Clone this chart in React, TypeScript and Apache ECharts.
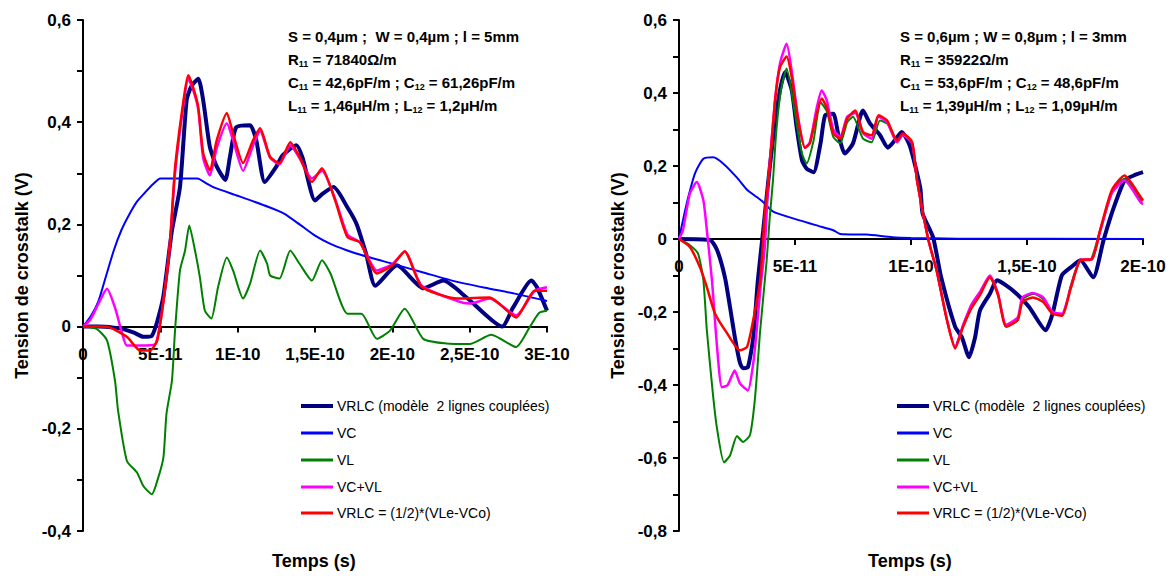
import React, { useEffect, useRef } from "react";
import * as echarts from "echarts";

// x values are in units of 1E-11 s
const seriesNames = [
  "VRLC (modèle  2 lignes couplées)",
  "VC",
  "VL",
  "VC+VL",
  "VRLC = (1/2)*(VLe-VCo)",
];
const seriesColors = ["#000080", "#0000FF", "#008000", "#FF00FF", "#FF0000"];
const seriesWidths = [4, 2, 2, 2.5, 2.5];

const leftXTicks = ["0", "5E-11", "1E-10", "1,5E-10", "2E-10", "2,5E-10", "3E-10"];
const rightXTicks = ["0", "5E-11", "1E-10", "1,5E-10", "2E-10"];
const leftYTicks = ["-0,4", "-0,2", "0", "0,2", "0,4", "0,6"];
const rightYTicks = ["-0,8", "-0,6", "-0,4", "-0,2", "0", "0,2", "0,4", "0,6"];

const leftVRLC = [[0,0],[1,0],[2,-0.002],[2.6,-0.005],[3.3,-0.012],[3.9,-0.02],[4.45,-0.018],[4.8,0.01],[5.2,0.06],[5.75,0.188],[6.27,0.273],[6.7,0.443],[7.0,0.47],[7.45,0.485],[7.77,0.443],[8.2,0.352],[8.65,0.313],[9.2,0.287],[9.5,0.332],[9.9,0.39],[10.8,0.394],[11.2,0.365],[11.75,0.283],[12.5,0.313],[12.9,0.335],[13.8,0.355],[14.2,0.33],[15.0,0.247],[15.5,0.26],[16.2,0.273],[17.1,0.233],[17.7,0.2],[18.3,0.143],[18.9,0.08],[20.3,0.12],[22,0.075],[23.3,0.09],[24.8,0.057],[27.1,0],[27.8,0.037],[29,0.09],[29.35,0.077],[30,0.031]];
const leftVC = [[0,0],[0.5,0.02],[1,0.05],[1.5,0.1],[2,0.15],[2.5,0.19],[3,0.22],[3.5,0.245],[4,0.262],[4.5,0.278],[5,0.29],[7.4,0.29],[8,0.28],[8.5,0.272],[10,0.256],[12,0.234],[13,0.221],[14,0.2],[15,0.178],[16,0.162],[17,0.15],[18,0.14],[20,0.123],[22,0.106],[24,0.089],[26,0.076],[28,0.064],[30,0.05]];
const leftVL = [[0,0],[0.9,-0.005],[1.55,-0.027],[2.07,-0.106],[2.27,-0.165],[2.84,-0.263],[3.5,-0.286],[3.9,-0.312],[4.45,-0.328],[4.86,-0.296],[5.2,-0.256],[5.4,-0.17],[5.75,-0.106],[5.95,-0.008],[6.27,0.11],[6.6,0.149],[6.87,0.198],[7.24,0.149],[7.56,0.096],[7.88,0.031],[8.3,0.016],[8.73,0.077],[9.3,0.135],[9.7,0.11],[10.35,0.055],[10.8,0.084],[11.45,0.149],[11.9,0.123],[12.1,0.1],[12.7,0.094],[13.4,0.149],[14,0.123],[14.8,0.09],[15.45,0.13],[16,0.104],[17.1,0.025],[18,0.025],[19,-0.024],[19.85,-0.008],[20.8,0.035],[22,-0.024],[23.5,-0.033],[25,-0.034],[26.4,-0.016],[28,-0.04],[28.9,0],[29.5,0.027],[30,0.031]];
const leftVCVL = [[0,0],[0.5,0.015],[1,0.045],[1.55,0.074],[2.07,0.037],[2.5,-0.01],[2.84,-0.037],[3.7,-0.037],[4.65,-0.035],[5,0.01],[5.2,0.05],[5.6,0.155],[5.95,0.3],[6.5,0.435],[6.8,0.485],[7.1,0.465],[7.45,0.425],[7.77,0.33],[8.2,0.296],[8.65,0.35],[9.3,0.398],[9.7,0.365],[10.35,0.305],[11,0.355],[11.45,0.383],[12.1,0.33],[12.7,0.318],[13.4,0.355],[14,0.33],[14.8,0.29],[15.45,0.305],[16.3,0.25],[17.1,0.18],[17.9,0.165],[19,0.11],[20,0.122],[20.8,0.147],[21.9,0.08],[24.2,0.05],[25,0.045],[26.3,0.055],[28,0.022],[29.2,0.07],[30,0.077]];
const leftRed = [[0,0],[1,0],[1.75,-0.002],[2.84,-0.02],[3.7,-0.047],[4.33,-0.047],[4.8,-0.027],[5.2,0.05],[5.6,0.155],[5.95,0.31],[6.5,0.443],[6.8,0.492],[7.1,0.47],[7.45,0.43],[7.77,0.34],[8.2,0.306],[8.65,0.365],[9.3,0.418],[9.7,0.378],[10.35,0.32],[11,0.365],[11.45,0.388],[12.1,0.332],[12.7,0.32],[13.4,0.361],[14,0.332],[14.8,0.283],[15.45,0.31],[16.3,0.247],[17.1,0.175],[17.9,0.165],[19,0.104],[20,0.12],[20.8,0.147],[21.9,0.078],[24.2,0.055],[26.3,0.057],[28,0.018],[29.2,0.07],[30,0.07]];

const rightVRLC = [[0,0],[1.34,-0.003],[1.64,-0.03],[1.98,-0.105],[2.2,-0.187],[2.41,-0.27],[2.63,-0.34],[2.76,-0.354],[2.97,-0.351],[3.2,-0.27],[3.4,-0.113],[3.63,0.024],[3.85,0.16],[4.1,0.3],[4.35,0.407],[4.57,0.457],[4.86,0.407],[5.07,0.306],[5.3,0.216],[5.5,0.193],[5.8,0.183],[6.1,0.262],[6.3,0.339],[6.65,0.343],[6.86,0.289],[7.15,0.234],[7.5,0.262],[7.93,0.352],[8.23,0.317],[8.66,0.285],[9,0.25],[9.3,0.27],[9.6,0.293],[9.95,0.255],[10.4,0.14],[10.5,0.07],[10.95,0.005],[11.3,-0.105],[11.9,-0.24],[12.2,-0.27],[12.5,-0.324],[12.76,-0.27],[12.97,-0.196],[13.4,-0.15],[13.7,-0.113],[14.1,-0.127],[14.55,-0.15],[15.1,-0.187],[15.8,-0.25],[16.1,-0.205],[16.5,-0.1],[16.9,-0.077],[17.3,-0.058],[17.85,-0.105],[18.3,-0.003],[18.7,0.079],[19.2,0.16],[19.6,0.174],[20,0.183]];
const rightVC = [[0,0],[0.2,0.06],[0.4,0.115],[0.69,0.18],[1.05,0.22],[1.47,0.224],[1.9,0.207],[2.5,0.168],[2.93,0.135],[3.35,0.115],[3.6,0.103],[4.06,0.075],[5.2,0.051],[6.0,0.036],[6.65,0.024],[6.95,0.014],[8.1,0.012],[9.2,0.005],[10,0.003],[12,0.001],[20,0]];
const rightVL = [[0,0],[0.47,-0.017],[0.82,-0.04],[1.05,-0.113],[1.2,-0.25],[1.47,-0.43],[1.64,-0.52],[1.94,-0.612],[2.2,-0.593],[2.5,-0.54],[2.76,-0.556],[3.06,-0.537],[3.28,-0.433],[3.5,-0.25],[3.78,-0.058],[3.9,0.05],[4.05,0.16],[4.2,0.3],[4.4,0.41],[4.64,0.467],[5.0,0.343],[5.3,0.234],[5.5,0.207],[5.8,0.27],[6.1,0.375],[6.37,0.35],[6.65,0.28],[6.95,0.262],[7.25,0.32],[7.5,0.335],[7.93,0.275],[8.3,0.265],[8.66,0.325],[9.0,0.315],[9.4,0.265],[9.65,0.285],[10.05,0.262],[10.26,0.16],[10.75,-0.003],[11.1,-0.085],[11.55,-0.222],[11.9,-0.296],[12.25,-0.235],[12.6,-0.185],[12.97,-0.15],[13.4,-0.105],[13.75,-0.15],[14.1,-0.24],[14.6,-0.222],[14.8,-0.165],[15.3,-0.15],[15.7,-0.165],[16.1,-0.2],[16.5,-0.21],[16.9,-0.125],[17.3,-0.058],[17.7,-0.058],[18.15,0.024],[18.7,0.133],[19.2,0.165],[19.95,0.1]];
const rightVCVL = [[0,0],[0.17,0.024],[0.47,0.125],[0.77,0.156],[1.05,0.106],[1.2,0.024],[1.42,-0.113],[1.64,-0.296],[1.85,-0.406],[2.1,-0.4],[2.4,-0.36],[2.63,-0.396],[2.97,-0.415],[3.2,-0.34],[3.35,-0.25],[3.5,-0.14],[3.7,-0.022],[3.85,0.16],[4.14,0.38],[4.35,0.48],[4.64,0.535],[4.86,0.46],[5.14,0.33],[5.43,0.25],[5.64,0.265],[5.94,0.36],[6.15,0.407],[6.37,0.38],[6.65,0.3],[6.95,0.28],[7.25,0.335],[7.6,0.345],[7.93,0.29],[8.3,0.275],[8.6,0.335],[8.97,0.32],[9.4,0.265],[9.65,0.285],[10.05,0.262],[10.26,0.16],[10.75,-0.003],[11.1,-0.085],[11.55,-0.222],[11.9,-0.295],[12.25,-0.235],[12.6,-0.18],[12.97,-0.145],[13.4,-0.1],[13.75,-0.15],[14.1,-0.235],[14.6,-0.215],[14.8,-0.16],[15.25,-0.148],[15.7,-0.16],[16.1,-0.2],[16.5,-0.205],[16.9,-0.13],[17.3,-0.058],[17.8,-0.055],[18.15,0.02],[18.65,0.125],[19.2,0.16],[19.9,0.1],[20,0.095]];
const rightRed = [[0,0],[0.47,-0.022],[0.9,-0.077],[1.2,-0.132],[1.55,-0.204],[2.07,-0.258],[2.63,-0.305],[2.93,-0.296],[3.2,-0.222],[3.5,-0.113],[3.7,0.07],[3.85,0.16],[3.95,0.23],[4.14,0.38],[4.35,0.47],[4.64,0.5],[4.86,0.443],[5.14,0.325],[5.43,0.25],[5.64,0.262],[5.94,0.343],[6.15,0.385],[6.37,0.36],[6.65,0.289],[6.95,0.275],[7.25,0.33],[7.6,0.352],[7.93,0.293],[8.3,0.284],[8.6,0.339],[8.97,0.325],[9.4,0.27],[9.65,0.289],[10.05,0.265],[10.26,0.16],[10.75,-0.003],[11.1,-0.085],[11.55,-0.222],[11.9,-0.3],[12.25,-0.24],[12.6,-0.19],[12.97,-0.154],[13.4,-0.105],[13.75,-0.154],[14.1,-0.24],[14.6,-0.222],[14.8,-0.173],[15.25,-0.16],[15.7,-0.173],[16.1,-0.205],[16.5,-0.21],[16.9,-0.132],[17.3,-0.058],[17.8,-0.055],[18.15,0.024],[18.65,0.133],[19.2,0.174],[19.9,0.115],[20,0.105]];

const leftData = [leftVRLC, leftVC, leftVL, leftVCVL, leftRed];
const rightData = [rightVRLC, rightVC, rightVL, rightVCVL, rightRed];

const leftAnnot = [
  "S = 0,4µm ;  W = 0,4µm ; l = 5mm",
  "R{s|11} = 71840Ω/m",
  "C{s|11} = 42,6pF/m ; C{s|12} = 61,26pF/m",
  "L{s|11} = 1,46µH/m ; L{s|12} = 1,2µH/m",
];
const rightAnnot = [
  "S = 0,6µm ; W = 0,8µm ; l = 3mm",
  "R{s|11} = 35922Ω/m",
  "C{s|11} = 53,6pF/m ; C{s|12} = 48,6pF/m",
  "L{s|11} = 1,39µH/m ; L{s|12} = 1,09µH/m",
];

const FONT = 'Arial, "Liberation Sans", sans-serif';
const BLACK = "#000";
const GRID_TOP = 20;
const GRID_H = 511;
const Y_MAX = 0.6;

function makeYAxes(gridIndex: number, min: number, labels: string[]) {
  const fmt = (v: number) => {
    const k = Math.round(v * 10);
    if (k % 2 !== 0) return "";
    const idx = Math.round((v - min) / 0.2);
    return labels[idx] ?? "";
  };
  return [
    {
      type: "value", gridIndex, min, max: Y_MAX, interval: 0.1,
      axisLine: { show: true, onZero: false, lineStyle: { color: BLACK, width: 2 } },
      axisTick: { show: true, length: 6, lineStyle: { color: BLACK, width: 2 } },
      axisLabel: { formatter: fmt, fontSize: 17, fontWeight: "bold", color: BLACK, fontFamily: FONT, margin: 12 },
      splitLine: { show: false },
      name: "Tension de crosstalk (V)", nameLocation: "middle", nameGap: 52,
      nameTextStyle: { fontSize: 18, fontWeight: "bold", color: BLACK, fontFamily: FONT },
    },
    {
      type: "value", gridIndex, min, max: Y_MAX, interval: 0.1,
      axisLine: { show: false },
      axisTick: { show: true, inside: true, length: 6, lineStyle: { color: BLACK, width: 2 } },
      axisLabel: { show: false },
      splitLine: { show: false },
    },
  ];
}

function makeXAxis(gridIndex: number, max: number, yMin: number, labels: string[]) {
  // place the axis on y = 0
  const offset = -GRID_H * (-yMin) / (Y_MAX - yMin);
  return {
    type: "value", gridIndex, min: 0, max, interval: 5, position: "bottom", offset,
    axisLine: { onZero: false, lineStyle: { color: BLACK, width: 2 } },
    axisTick: { length: 6, lineStyle: { color: BLACK, width: 2 } },
    axisLabel: {
      formatter: (v: number) => labels[Math.round(v / 5)] ?? "",
      fontSize: 17, fontWeight: "bold", color: BLACK, fontFamily: FONT, margin: 19,
    },
    splitLine: { show: false },
  };
}

function makeSeries(datas: number[][][], axisIndex: number, yIndex: number) {
  return datas.map((d, i) => ({
    name: seriesNames[i], type: "line", xAxisIndex: axisIndex, yAxisIndex: yIndex,
    data: d, symbol: "none", showSymbol: false, smooth: 0.2,
    lineStyle: { color: seriesColors[i], width: seriesWidths[i] },
    itemStyle: { color: seriesColors[i] },
  }));
}

function annotTexts(lines: string[], left: number) {
  return lines.map((t, i) => ({
    type: "text", left, top: 27 + i * 23,
    style: {
      text: t, fontSize: 15, fontWeight: "bold", fill: BLACK, fontFamily: FONT, lineHeight: 18,
      rich: { s: { fontSize: 9, fontWeight: "bold", fill: BLACK, fontFamily: FONT, verticalAlign: "bottom", lineHeight: 9 } },
    },
  }));
}

function legendGraphics(left: number) {
  const rowY = [406, 433, 460, 487, 513];
  const out: any[] = [];
  seriesNames.forEach((n, i) => {
    out.push({
      type: "line", shape: { x1: left, y1: rowY[i], x2: left + 32, y2: rowY[i] },
      style: { stroke: seriesColors[i], lineWidth: i === 0 ? 4 : 3 },
    });
    out.push({
      type: "text", x: left + 36, y: rowY[i],
      style: { text: n, fontSize: 14, fill: BLACK, fontFamily: FONT, verticalAlign: "middle", align: "left" },
    });
  });
  return out;
}

export default function App() {
  const ref = useRef<HTMLDivElement>(null);
  useEffect(() => {
    if (!ref.current) return;
    const chart = echarts.init(ref.current, null, { renderer: "svg" });
    chart.setOption({
      animation: false,
      backgroundColor: "#fff",
      grid: [
        { left: 83, top: GRID_TOP, width: 464, height: GRID_H },
        { left: 679, top: GRID_TOP, width: 464, height: GRID_H },
      ],
      xAxis: [makeXAxis(0, 30, -0.4, leftXTicks), makeXAxis(1, 20, -0.8, rightXTicks)],
      yAxis: [...makeYAxes(0, -0.4, leftYTicks), ...makeYAxes(1, -0.8, rightYTicks)],
      series: [...makeSeries(leftData, 0, 0), ...makeSeries(rightData, 1, 2)],
      graphic: [
        ...annotTexts(leftAnnot, 288),
        ...annotTexts(rightAnnot, 900),
        ...legendGraphics(301),
        ...legendGraphics(897),
        { type: "text", left: 272, top: 552, style: { text: "Temps (s)", fontSize: 18, fontWeight: "bold", fill: BLACK, fontFamily: FONT } },
        { type: "text", left: 868, top: 552, style: { text: "Temps (s)", fontSize: 18, fontWeight: "bold", fill: BLACK, fontFamily: FONT } },
      ],
    });
    return () => chart.dispose();
  }, []);
  return <div ref={ref} style={{ position: "fixed", left: 0, top: 0, width: 1174, height: 576 }} />;
}
